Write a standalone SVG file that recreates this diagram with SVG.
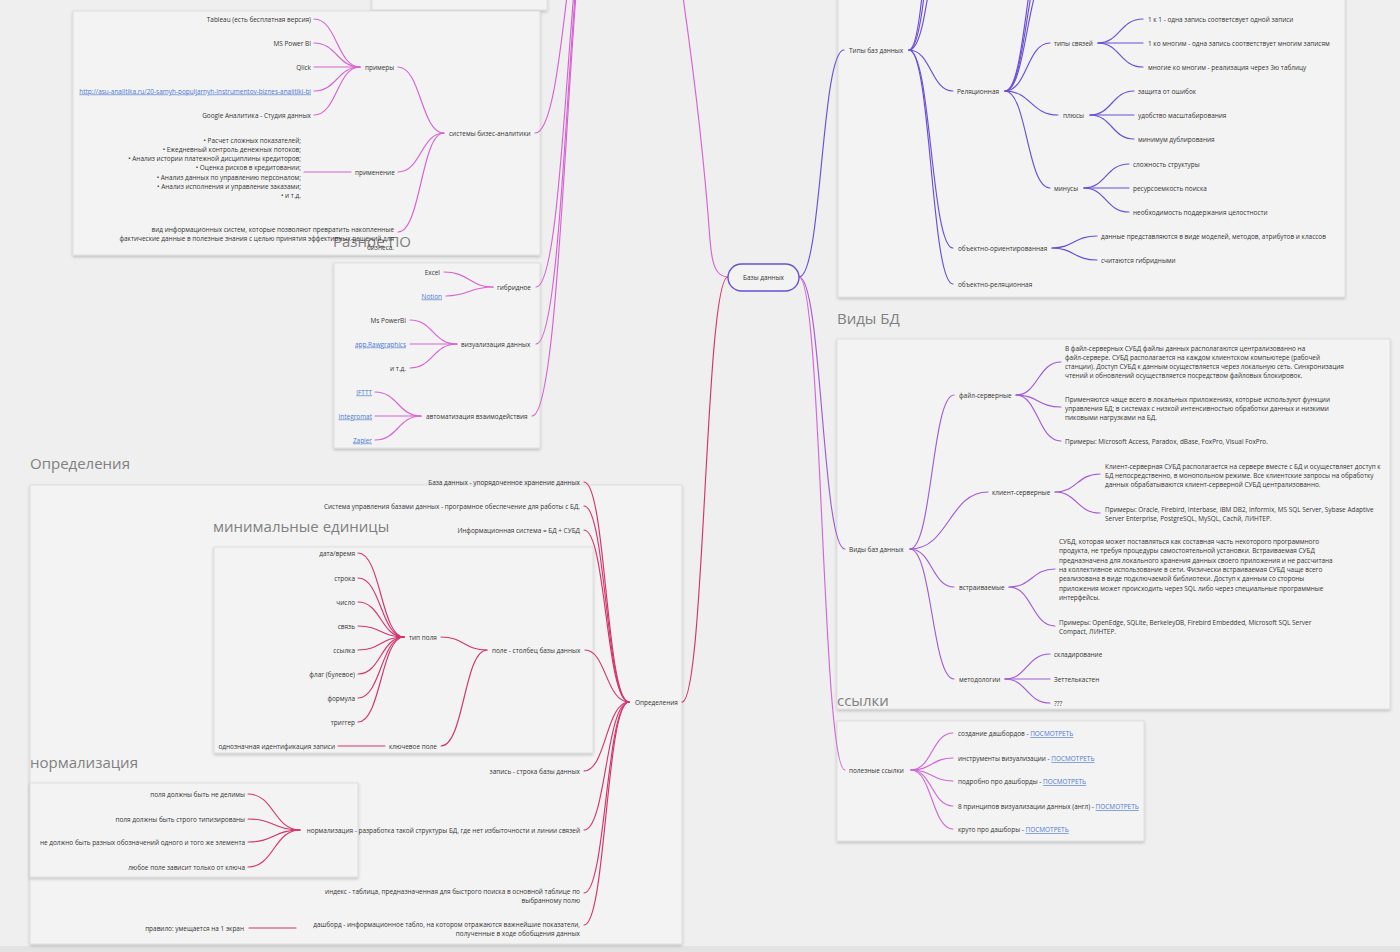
<svg xmlns="http://www.w3.org/2000/svg" width="1400" height="952" viewBox="0 0 1400 952">
<defs>
<filter id="sh" x="-5%" y="-5%" width="110%" height="115%">
<feDropShadow dx="0" dy="1.5" stdDeviation="1.5" flood-color="#000" flood-opacity="0.22"/>
</filter>
</defs>
<style>
.fr{fill:#f3f3f3;stroke:#d9d9d9;stroke-width:0.8;filter:url(#sh)}
.tt{font-family:"Open Sans","Noto Sans",sans-serif;font-size:15px;fill:#808080;dominant-baseline:central}
.t{font-family:"Open Sans","Noto Sans",sans-serif;font-size:6.45px;fill:#333;dominant-baseline:central}
.r{text-anchor:end}
.lk{fill:#4c78d4;text-decoration:underline}
.c{fill:none;stroke-width:1.15;stroke-linecap:round}
.c1{stroke:#d862d2}
.c2{stroke:#6a4ed6}
.c3{stroke:#a25ad8}
.c4{stroke:#d4346c}
.c5{stroke:#d266d8}
</style>
<rect x="0" y="0" width="1400" height="952" fill="#efefef"/>
<rect x="0" y="946" width="1400" height="6" fill="#e3e3e3"/>

<g id="frames">
<rect class="fr" x="372" y="-60" width="175" height="70"/>
<rect class="fr" x="73" y="11" width="467" height="244"/>
<rect class="fr" x="334" y="263" width="206" height="185"/>
<rect class="fr" x="838" y="-60" width="507" height="357"/>
<rect class="fr" x="837" y="339" width="553" height="370"/>
<rect class="fr" x="837" y="721" width="307" height="120"/>
<rect class="fr" x="30" y="485" width="652" height="459"/>
<rect class="fr" x="214" y="547" width="379" height="206"/>
<rect class="fr" x="30" y="783" width="328" height="94"/>
</g>

<g id="frame-titles">
<text class="tt" x="333" y="241">Разное ПО</text>
<text class="tt" x="30" y="463">Определения</text>
<text class="tt" x="213" y="526">минимальные единицы</text>
<text class="tt" x="30" y="762">нормализация</text>
<text class="tt" x="837" y="318">Виды БД</text>
<text class="tt" x="837" y="700">ссылки</text>
</g>

<g id="connectors">
<path class="c c1" d="M728,277 C716,277 712,265 710,240 C705,170 695,80 682,-10"/>
<path class="c c1" d="M535,133 C567,133 568,-150 600,-150"/>
<path class="c c1" d="M536,287 C568,287 568,-150 600,-150"/>
<path class="c c1" d="M536,344 C568,344 568,-150 600,-150"/>
<path class="c c1" d="M532,416 C566,416 568,-150 600,-150"/>
<path class="c c1" d="M444,133 C421,133 421,67 398,67"/>
<path class="c c1" d="M444,133 C421,133 421,172 398,172"/>
<path class="c c1" d="M444,133 C421,133 421,232 398,232"/>
<path class="c c1" d="M360,67 C337,67 337,19 314,19"/>
<path class="c c1" d="M360,67 C337,67 337,43 314,43"/>
<path class="c c1" d="M360,67 L314,67"/>
<path class="c c1" d="M360,67 C337,67 337,91 314,91"/>
<path class="c c1" d="M360,67 C337,67 337,115 314,115"/>
<path class="c c1" d="M351,172 L304,172"/>
<path class="c c1" d="M493,287 C469,287 469,272 444,272"/>
<path class="c c1" d="M493,287 C469,287 469,296 446,296"/>
<path class="c c1" d="M457,344 C433,344 433,320 410,320"/>
<path class="c c1" d="M457,344 L410,344"/>
<path class="c c1" d="M457,344 C433,344 433,368 410,368"/>
<path class="c c1" d="M421,416 C398,416 398,392 375,392"/>
<path class="c c1" d="M421,416 L375,416"/>
<path class="c c1" d="M421,416 C398,416 398,440 375,440"/>
<path class="c c4" d="M728,277 C705,277 705,702 682,702"/>
<path class="c c4" d="M629,702 C606,702 606,482 584,482"/>
<path class="c c4" d="M629,702 C606,702 606,506 584,506"/>
<path class="c c4" d="M629,702 C606,702 606,530 584,530"/>
<path class="c c4" d="M629,702 C606,702 606,650 585,650"/>
<path class="c c4" d="M629,702 C606,702 606,771 584,771"/>
<path class="c c4" d="M629,702 C606,702 606,830 584,830"/>
<path class="c c4" d="M629,702 C606,702 606,893 584,893"/>
<path class="c c4" d="M629,702 C606,702 606,925 584,925"/>
<path class="c c4" d="M487,650 C464,650 464,637 441,637"/>
<path class="c c4" d="M487,650 C464,650 464,746 441,746"/>
<path class="c c4" d="M404,637 C381,637 381,553 358,553"/>
<path class="c c4" d="M404,637 C381,637 381,578 358,578"/>
<path class="c c4" d="M404,637 C381,637 381,602 358,602"/>
<path class="c c4" d="M404,637 C381,637 381,626 358,626"/>
<path class="c c4" d="M404,637 C381,637 381,650 358,650"/>
<path class="c c4" d="M404,637 C381,637 381,674 358,674"/>
<path class="c c4" d="M404,637 C381,637 381,698 358,698"/>
<path class="c c4" d="M404,637 C381,637 381,722 358,722"/>
<path class="c c4" d="M385,746 L338,746"/>
<path class="c c4" d="M300,830 C274,830 274,794 248,794"/>
<path class="c c4" d="M300,830 C274,830 274,819 248,819"/>
<path class="c c4" d="M300,830 C274,830 274,842 248,842"/>
<path class="c c4" d="M300,830 C274,830 274,867 248,867"/>
<path class="c c4" d="M296,928 L249,928"/>
<path class="c c2" d="M799,277 C822,277 821,50 844,50"/>
<path class="c c2" d="M909,50 C931,50 931,-100 953,-100"/>
<path class="c c2" d="M909,50 C931,50 931,-200 953,-200"/>
<path class="c c2" d="M909,50 C931,50 931,-300 953,-300"/>
<path class="c c2" d="M909,50 C931,50 931,91 953,91"/>
<path class="c c2" d="M909,50 C931,50 931,248 953,248"/>
<path class="c c2" d="M909,50 C931,50 931,284 953,284"/>
<path class="c c2" d="M1005,91 C1027,91 1027,-29 1050,-29"/>
<path class="c c2" d="M1005,91 C1027,91 1027,-53 1050,-53"/>
<path class="c c2" d="M1005,91 C1027,91 1027,-77 1050,-77"/>
<path class="c c2" d="M1005,91 C1027,91 1027,43 1050,43"/>
<path class="c c2" d="M1005,91 C1031,91 1031,115 1058,115"/>
<path class="c c2" d="M1005,91 C1027,91 1027,188 1050,188"/>
<path class="c c2" d="M1098,43 C1120,43 1120,19 1143,19"/>
<path class="c c2" d="M1098,43 L1143,43"/>
<path class="c c2" d="M1098,43 C1120,43 1120,67 1143,67"/>
<path class="c c2" d="M1090,115 C1112,115 1112,91 1134,91"/>
<path class="c c2" d="M1090,115 L1134,115"/>
<path class="c c2" d="M1090,115 C1112,115 1112,139 1134,139"/>
<path class="c c2" d="M1084,188 C1106,188 1106,164 1129,164"/>
<path class="c c2" d="M1084,188 L1129,188"/>
<path class="c c2" d="M1084,188 C1106,188 1106,212 1129,212"/>
<path class="c c2" d="M1052,248 C1074,248 1074,236 1097,236"/>
<path class="c c2" d="M1052,248 C1074,248 1074,260 1097,260"/>
<path class="c c3" d="M799,277 C822,277 822,549 845,549"/>
<path class="c c3" d="M910,549 C932,549 932,395 954,395"/>
<path class="c c3" d="M910,549 C949,549 949,492 988,492"/>
<path class="c c3" d="M910,549 C932,549 932,587 954,587"/>
<path class="c c3" d="M910,549 C932,549 932,679 954,679"/>
<path class="c c3" d="M1016,395 C1038,395 1038,362 1061,362"/>
<path class="c c3" d="M1016,395 C1038,395 1038,407 1061,407"/>
<path class="c c3" d="M1016,395 C1038,395 1038,441 1061,441"/>
<path class="c c3" d="M1055,492 C1077,492 1077,474 1100,474"/>
<path class="c c3" d="M1055,492 C1077,492 1077,513 1100,513"/>
<path class="c c3" d="M1009,587 C1032,587 1032,569 1055,569"/>
<path class="c c3" d="M1009,587 C1032,587 1032,626 1055,626"/>
<path class="c c3" d="M1005,679 C1027,679 1027,654 1050,654"/>
<path class="c c3" d="M1005,679 L1050,679"/>
<path class="c c3" d="M1005,679 C1027,679 1027,703 1050,703"/>
<path class="c c5" d="M799,277 C822,277 822,770 845,770"/>
<path class="c c5" d="M911,770 C932,770 932,733 953,733"/>
<path class="c c5" d="M911,770 C932,770 932,758 953,758"/>
<path class="c c5" d="M911,770 C932,770 932,781 953,781"/>
<path class="c c5" d="M911,770 C932,770 932,806 953,806"/>
<path class="c c5" d="M911,770 C932,770 932,829 953,829"/>
</g>

<g id="n-root">
<rect x="728" y="264" width="71" height="27" rx="13.5" fill="#f3f3f3" stroke="#6a4ed6" stroke-width="1.4"/>
<text class="t" x="763.5" y="277.5" text-anchor="middle">Базы данных</text>
</g>

<g id="n-bi"><text class="t" x="449" y="133">системы бизес-аналитики</text></g>
<g id="n-examples"><text class="t" x="365" y="67">примеры</text></g>
<g id="n-tableau"><text class="t r" x="311" y="19">Tableau (есть бесплатная версия)</text></g>
<g id="n-mspbi"><text class="t r" x="311" y="43">MS Power BI</text></g>
<g id="n-qlick"><text class="t r" x="311" y="67">Qlick</text></g>
<g id="n-asu"><text class="t r lk" x="311" y="91">http://asu-analitika.ru/20-samyh-populjarnyh-instrumentov-biznes-analitiki-bi</text></g>
<g id="n-google"><text class="t r" x="311" y="115">Google Аналитика - Студия данных</text></g>
<g id="n-usage"><text class="t" x="355" y="172">применение</text></g>
<g id="n-usage-list">
<text class="t r" x="301" y="140">•  Расчет сложных показателей;</text>
<text class="t r" x="301" y="149.3">•  Ежедневный контроль денежных потоков;</text>
<text class="t r" x="301" y="158.6">•  Анализ истории платежной дисциплины кредиторов;</text>
<text class="t r" x="301" y="167.9">•  Оценка рисков в кредитовании;</text>
<text class="t r" x="301" y="177.2">•  Анализ данных по управлению персоналом;</text>
<text class="t r" x="301" y="186.5">•  Анализ исполнения и управление заказами;</text>
<text class="t r" x="301" y="195.8">•  и т.д.</text>
</g>
<g id="n-bi-def">
<text class="t r" x="394" y="229">вид информационных систем, которые позволяют превратить накопленные</text>
<text class="t r" x="394" y="238.4">фактические данные в полезные знания с целью принятия эффективных решений для</text>
<text class="t r" x="394" y="247.8">бизнеса.</text>
</g>
<g id="n-hybrid"><text class="t" x="497" y="287">гибридное</text></g>
<g id="n-excel"><text class="t r" x="440" y="272">Excel</text></g>
<g id="n-notion"><text class="t r lk" x="442" y="296">Notion</text></g>
<g id="n-viz"><text class="t" x="461" y="344">визуализация данных</text></g>
<g id="n-mspowerbi"><text class="t r" x="406" y="320">Ms PowerBI</text></g>
<g id="n-raw"><text class="t r lk" x="406" y="344">app.Rawgraphics</text></g>
<g id="n-etc"><text class="t r" x="406" y="368">и т.д.</text></g>
<g id="n-auto"><text class="t" x="426" y="416">автоматизация взаимодействия</text></g>
<g id="n-ifttt"><text class="t r lk" x="372" y="392">IFTTT</text></g>
<g id="n-integromat"><text class="t r lk" x="372" y="416">Integromat</text></g>
<g id="n-zapier"><text class="t r lk" x="372" y="440">Zapier</text></g>

<g id="n-defs"><text class="t" x="635" y="702">Определения</text></g>
<g id="n-db"><text class="t r" x="580" y="482">База данных - упорядоченное хранение данных</text></g>
<g id="n-dbms"><text class="t r" x="580" y="506">Система управления базами данных - програмное обеспечение для работы с БД.</text></g>
<g id="n-is"><text class="t r" x="580" y="530">Информационная система = БД + СУБД</text></g>
<g id="n-field"><text class="t" x="492" y="650">поле - столбец базы данных</text></g>
<g id="n-fieldtype"><text class="t" x="409" y="637">тип поля</text></g>
<g id="n-ft1"><text class="t r" x="355" y="553">дата/время</text></g>
<g id="n-ft2"><text class="t r" x="355" y="578">строка</text></g>
<g id="n-ft3"><text class="t r" x="355" y="602">число</text></g>
<g id="n-ft4"><text class="t r" x="355" y="626">связь</text></g>
<g id="n-ft5"><text class="t r" x="355" y="650">ссылка</text></g>
<g id="n-ft6"><text class="t r" x="355" y="674">флаг (булевое)</text></g>
<g id="n-ft7"><text class="t r" x="355" y="698">формула</text></g>
<g id="n-ft8"><text class="t r" x="355" y="722">триггер</text></g>
<g id="n-key"><text class="t" x="389" y="746">ключевое поле</text></g>
<g id="n-keydef"><text class="t r" x="335" y="746">однозначная идентификация записи</text></g>
<g id="n-record"><text class="t r" x="580" y="771">запись - строка базы данных</text></g>
<g id="n-norm"><text class="t r" x="580" y="830">нормализация - разработка такой структуры БД, где нет избыточности и линии связей</text></g>
<g id="n-norm1"><text class="t r" x="245" y="794">поля должны быть не делимы</text></g>
<g id="n-norm2"><text class="t r" x="245" y="819">поля должны быть строго типизированы</text></g>
<g id="n-norm3"><text class="t r" x="245" y="842">не должно быть разных обозначений одного и того же элемента</text></g>
<g id="n-norm4"><text class="t r" x="245" y="867">любое поле зависит только от ключа</text></g>
<g id="n-index">
<text class="t r" x="580" y="891">индекс - таблица, предназначенная для быстрого поиска в основной таблице по</text>
<text class="t r" x="580" y="900.5">выбранному полю</text>
</g>
<g id="n-dash">
<text class="t r" x="580" y="924">дашборд - информационное табло, на котором отражаются важнейшие показатели,</text>
<text class="t r" x="580" y="933.5">полученные в ходе обобщения данных</text>
</g>
<g id="n-rule"><text class="t r" x="244" y="928">правило: умещается на 1 экран</text></g>

<g id="n-types"><text class="t" x="849" y="50">Типы баз данных</text></g>
<g id="n-rel"><text class="t" x="957" y="91">Реляционная</text></g>
<g id="n-links"><text class="t" x="1054" y="43">типы связей</text></g>
<g id="n-l1"><text class="t" x="1148" y="19">1 к 1 - одна запись соответсвует одной записи</text></g>
<g id="n-l2"><text class="t" x="1148" y="43">1 ко многим - одна запись соответствует многим записям</text></g>
<g id="n-l3"><text class="t" x="1148" y="67">многие ко многим - реализация через 3ю таблицу</text></g>
<g id="n-plus"><text class="t" x="1063" y="115">плюсы</text></g>
<g id="n-p1"><text class="t" x="1138" y="91">защита от ошибок</text></g>
<g id="n-p2"><text class="t" x="1138" y="115">удобство масштабирования</text></g>
<g id="n-p3"><text class="t" x="1138" y="139">минимум дублирования</text></g>
<g id="n-minus"><text class="t" x="1054" y="188">минусы</text></g>
<g id="n-m1"><text class="t" x="1133" y="164">сложность структуры</text></g>
<g id="n-m2"><text class="t" x="1133" y="188">ресурсоемкость поиска</text></g>
<g id="n-m3"><text class="t" x="1133" y="212">необходимость поддержания целостности</text></g>
<g id="n-oo"><text class="t" x="958" y="248">объектно-ориентированная</text></g>
<g id="n-oo1"><text class="t" x="1101" y="236">данные представляются в виде моделей, методов, атрибутов и классов</text></g>
<g id="n-oo2"><text class="t" x="1101" y="260">считаются гибридными</text></g>
<g id="n-or"><text class="t" x="958" y="284">объектно-реляционная</text></g>

<g id="n-kinds"><text class="t" x="849" y="549">Виды баз данных</text></g>
<g id="n-fs"><text class="t" x="959" y="395">файл-серверные</text></g>
<g id="n-fs1">
<text class="t" x="1065" y="348">В файл-серверных СУБД файлы данных располагаются централизованно на</text>
<text class="t" x="1065" y="357.3">файл-сервере. СУБД располагается на каждом клиентском компьютере (рабочей</text>
<text class="t" x="1065" y="366.6">станции). Доступ СУБД к данным осуществляется через локальную сеть. Синхронизация</text>
<text class="t" x="1065" y="375.9">чтений и обновлений осуществляется посредством файловых блокировок.</text>
</g>
<g id="n-fs2">
<text class="t" x="1065" y="399">Применяются чаще всего в локальных приложениях, которые используют функции</text>
<text class="t" x="1065" y="408.3">управления БД; в системах с низкой интенсивностью обработки данных и низкими</text>
<text class="t" x="1065" y="417.6">пиковыми нагрузками на БД.</text>
</g>
<g id="n-fs3"><text class="t" x="1065" y="441">Примеры: Microsoft Access, Paradox, dBase, FoxPro, Visual FoxPro.</text></g>
<g id="n-cs"><text class="t" x="992" y="492">клиент-серверные</text></g>
<g id="n-cs1">
<text class="t" x="1105" y="466">Клиент-серверная СУБД располагается на сервере вместе с БД и осуществляет доступ к</text>
<text class="t" x="1105" y="475.3">БД непосредственно, в монопольном режиме. Все клиентские запросы на обработку</text>
<text class="t" x="1105" y="484.6">данных обрабатываются клиент-серверной СУБД централизованно.</text>
</g>
<g id="n-cs2">
<text class="t" x="1105" y="509">Примеры: Oracle, Firebird, Interbase, IBM DB2, Informix, MS SQL Server, Sybase Adaptive</text>
<text class="t" x="1105" y="518.3">Server Enterprise, PostgreSQL, MySQL, Cachй, ЛИНТЕР.</text>
</g>
<g id="n-emb"><text class="t" x="959" y="587">встраиваемые</text></g>
<g id="n-emb1">
<text class="t" x="1059" y="541.5">СУБД, которая может поставляться как составная часть некоторого программного</text>
<text class="t" x="1059" y="550.8">продукта, не требуя процедуры самостоятельной установки. Встраиваемая СУБД</text>
<text class="t" x="1059" y="560.1">предназначена для локального хранения данных своего приложения и не рассчитана</text>
<text class="t" x="1059" y="569.4">на коллективное использование в сети. Физически встраиваемая СУБД чаще всего</text>
<text class="t" x="1059" y="578.7">реализована в виде подключаемой библиотеки. Доступ к данным со стороны</text>
<text class="t" x="1059" y="588">приложения может происходить через SQL либо через специальные программные</text>
<text class="t" x="1059" y="597.3">интерфейсы.</text>
</g>
<g id="n-emb2">
<text class="t" x="1059" y="622">Примеры: OpenEdge, SQLite, BerkeleyDB, Firebird Embedded, Microsoft SQL Server</text>
<text class="t" x="1059" y="631.3">Compact, ЛИНТЕР.</text>
</g>
<g id="n-meth"><text class="t" x="959" y="679">методологии</text></g>
<g id="n-meth1"><text class="t" x="1054" y="654">складирование</text></g>
<g id="n-meth2"><text class="t" x="1054" y="679">Зеттелькастен</text></g>
<g id="n-meth3"><text class="t" x="1054" y="703">???</text></g>

<g id="n-useful"><text class="t" x="849" y="770">полезные ссылки</text></g>
<g id="n-u1"><text class="t" x="958" y="733">создание дашбордов - <tspan class="lk">ПОСМОТРЕТЬ</tspan></text></g>
<g id="n-u2"><text class="t" x="958" y="758">инструменты визуализации - <tspan class="lk">ПОСМОТРЕТЬ</tspan></text></g>
<g id="n-u3"><text class="t" x="958" y="781">подробно про дашборды - <tspan class="lk">ПОСМОТРЕТЬ</tspan></text></g>
<g id="n-u4"><text class="t" x="958" y="806">8 принципов визуализации данных (англ) - <tspan class="lk">ПОСМОТРЕТЬ</tspan></text></g>
<g id="n-u5"><text class="t" x="958" y="829">круто про дашборы - <tspan class="lk">ПОСМОТРЕТЬ</tspan></text></g>
</svg>
